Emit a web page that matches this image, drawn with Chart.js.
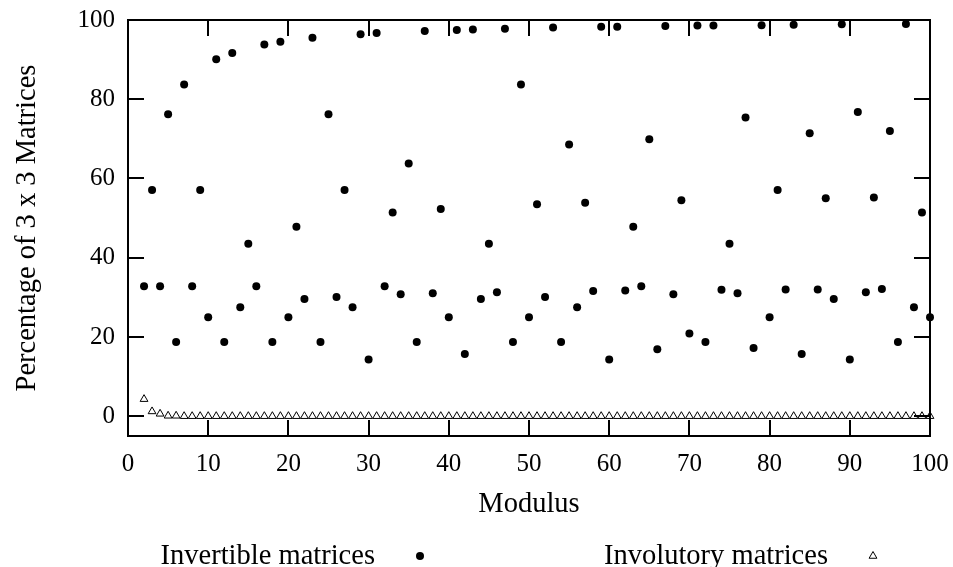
<!DOCTYPE html>
<html><head><meta charset="utf-8">
<script src="https://cdn.jsdelivr.net/npm/chart.js@4.4.0/dist/chart.umd.min.js"></script>
<style>html,body{margin:0;padding:0;background:#fff;}#wrap{width:953px;height:567px;position:relative;}canvas{display:block;}</style>
</head><body><div id="wrap"><canvas id="c" width="953" height="567"></canvas></div>
<script>
const moduli = [2,3,4,5,6,7,8,9,10,11,12,13,14,15,16,17,18,19,20,21,22,23,24,25,26,27,28,29,30,31,32,33,34,35,36,37,38,39,40,41,42,43,44,45,46,47,48,49,50,51,52,53,54,55,56,57,58,59,60,61,62,63,64,65,66,67,68,69,70,71,72,73,74,75,76,77,78,79,80,81,82,83,84,85,86,87,88,89,90,91,92,93,94,95,96,97,98,99,100];
const invertiblePct = [32.8,57.1,32.8,76.2,18.7,83.7,32.8,57.1,25.0,90.1,18.7,91.7,27.5,43.5,32.8,93.8,18.7,94.5,25.0,47.8,29.6,95.5,18.7,76.2,30.1,57.1,27.5,96.4,14.3,96.7,32.8,51.4,30.8,63.8,18.7,97.2,31.0,52.3,25.0,97.5,15.7,97.6,29.6,43.5,31.3,97.8,18.7,83.7,25.0,53.5,30.1,98.1,18.7,68.6,27.5,53.9,31.6,98.3,14.3,98.3,31.7,47.8,32.8,69.9,16.9,98.5,30.8,54.5,20.9,98.6,18.7,98.6,31.9,43.5,31.0,75.4,17.2,98.7,25.0,57.1,32.0,98.8,15.7,71.4,32.0,55.0,29.6,98.9,14.3,76.8,31.3,55.2,32.1,72.0,18.7,99.0,27.5,51.4,25.0];
const involutoryPct = [4.3,1.2,0.6,0.1,0.1,0.0,0.0,0.0,0.0,0.0,0.0,0.0,0.0,0.0,0.0,0.0,0.0,0.0,0.0,0.0,0.0,0.0,0.0,0.0,0.0,0.0,0.0,0.0,0.0,0.0,0.0,0.0,0.0,0.0,0.0,0.0,0.0,0.0,0.0,0.0,0.0,0.0,0.0,0.0,0.0,0.0,0.0,0.0,0.0,0.0,0.0,0.0,0.0,0.0,0.0,0.0,0.0,0.0,0.0,0.0,0.0,0.0,0.0,0.0,0.0,0.0,0.0,0.0,0.0,0.0,0.0,0.0,0.0,0.0,0.0,0.0,0.0,0.0,0.0,0.0,0.0,0.0,0.0,0.0,0.0,0.0,0.0,0.0,0.0,0.0,0.0,0.0,0.0,0.0,0.0,0.0,0.0,0.0,0.0];
const xTickValues = [0,10,20,30,40,50,60,70,80,90,100];
const yTickValues = [0,20,40,60,80,100];
const xTitle = 'Modulus';
const yTitle = 'Percentage of 3 x 3 Matrices';
const seriesNames = ['Invertible matrices', 'Involutory matrices'];

const FONT = '"Liberation Serif", "Times New Roman", serif';

const framePlugin = {
  id: 'gnuplotFrame',
  afterDraw(chart) {
    const ctx = chart.ctx, a = chart.chartArea;
    const xs = chart.scales.x, ys = chart.scales.y;
    ctx.save();
    ctx.strokeStyle = '#000';
    ctx.lineWidth = 2;
    ctx.lineCap = 'butt';
    ctx.beginPath();
    const tl = 16;
    xTickValues.forEach(v => {
      const px = Math.round(xs.getPixelForValue(v));
      ctx.moveTo(px, a.bottom); ctx.lineTo(px, a.bottom - tl);
      ctx.moveTo(px, a.top); ctx.lineTo(px, a.top + tl);
    });
    yTickValues.forEach(v => {
      const py = Math.round(ys.getPixelForValue(v));
      ctx.moveTo(a.left, py); ctx.lineTo(a.left + tl, py);
      ctx.moveTo(a.right, py); ctx.lineTo(a.right - tl, py);
    });
    ctx.stroke();
    ctx.strokeRect(a.left, a.top, a.right - a.left, a.bottom - a.top);

    // axis titles
    ctx.fillStyle = '#000';
    ctx.font = '28.5px ' + FONT;
    ctx.textAlign = 'center';
    ctx.textBaseline = 'alphabetic';
    ctx.fillText(xTitle, (a.left + a.right) / 2, 512);
    ctx.save();
    ctx.translate(35, (a.top + a.bottom) / 2);
    ctx.rotate(-Math.PI / 2);
    ctx.fillText(yTitle, 0, 0);
    ctx.restore();

    // legend (gnuplot style: text, then sample on the right)
    ctx.textAlign = 'right';
    const ds = chart.data.datasets;
    const legendItems = [
      { text: seriesNames[0], tx: 375, mx: 420, ds: ds[0] },
      { text: seriesNames[1], tx: 828, mx: 873, ds: ds[1] }
    ];
    legendItems.forEach(it => {
      ctx.fillStyle = '#000';
      ctx.fillText(it.text, it.tx, 564);
      ctx.fillStyle = it.ds.backgroundColor;
      ctx.strokeStyle = it.ds.borderColor;
      ctx.lineWidth = it.ds.borderWidth;
      Chart.helpers.drawPoint(ctx, {
        pointStyle: it.ds.pointStyle, radius: it.ds.pointRadius,
        rotation: 0, borderWidth: it.ds.borderWidth
      }, it.mx, 556);
    });
    ctx.restore();
  }
};

new Chart(document.getElementById('c'), {
  type: 'scatter',
  data: {
    datasets: [
      {
        label: seriesNames[0],
        data: moduli.map((m, i) => ({ x: m, y: invertiblePct[i] })),
        pointStyle: 'circle', pointRadius: 4, pointHoverRadius: 4,
        backgroundColor: '#000', borderColor: '#000', borderWidth: 0
      },
      {
        label: seriesNames[1],
        data: moduli.map((m, i) => ({ x: m, y: involutoryPct[i] })),
        pointStyle: 'triangle', pointRadius: 4.5, pointHoverRadius: 4.5,
        backgroundColor: '#fff', borderColor: '#000', borderWidth: 1
      }
    ]
  },
  options: {
    responsive: false,
    animation: false,
    events: [],
    clip: false,
    layout: { padding: { left: 0, right: 23, top: 20, bottom: 0 } },
    plugins: { legend: { display: false }, tooltip: { enabled: false } },
    scales: {
      x: {
        type: 'linear', min: 0, max: 100,
        afterBuildTicks: s => { s.ticks = xTickValues.map(v => ({ value: v })); },
        afterFit: s => { s.height = 131; s.paddingLeft = 0; s.paddingRight = 0; },
        grid: { display: false, drawTicks: false },
        border: { display: false },
        ticks: { padding: 13, color: '#000', font: { family: FONT, size: 25 }, maxRotation: 0, autoSkip: false }
      },
      y: {
        type: 'linear', min: -5, max: 100,
        afterBuildTicks: s => { s.ticks = yTickValues.map(v => ({ value: v })); },
        afterFit: s => { s.width = 128; s.paddingTop = 0; s.paddingBottom = 0; },
        grid: { display: false, drawTicks: false },
        border: { display: false },
        ticks: { padding: 13, color: '#000', font: { family: FONT, size: 25 }, autoSkip: false }
      }
    }
  },
  plugins: [framePlugin]
});
</script>
</body></html>
